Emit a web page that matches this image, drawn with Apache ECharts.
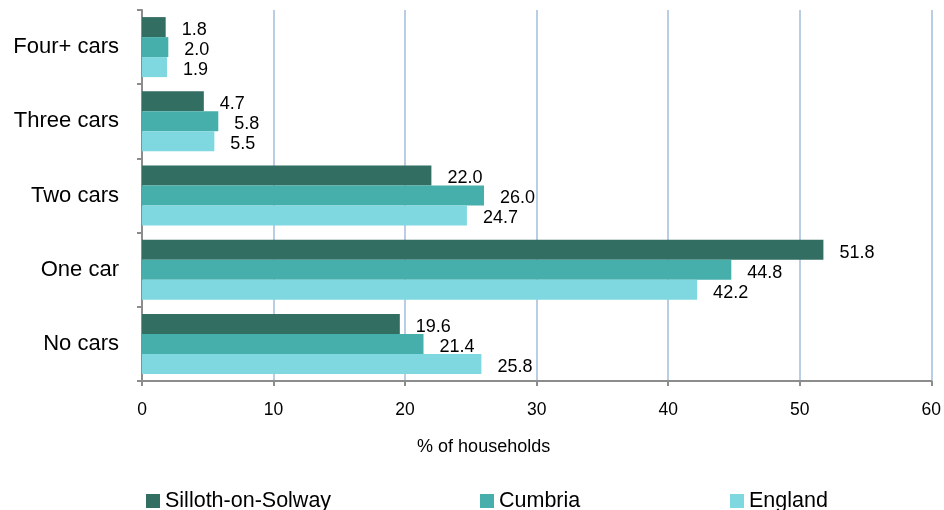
<!DOCTYPE html>
<html><head><meta charset="utf-8">
<script src="https://cdn.jsdelivr.net/npm/echarts@6/dist/echarts.min.js"></script>
<style>html,body{margin:0;padding:0;background:#fff}#c{width:944px;height:510px}</style>
</head><body><div id="c"></div>
<script>
const categories = ['Four+ cars', 'Three cars', 'Two cars', 'One car', 'No cars'];
const seriesNames = ['Silloth-on-Solway', 'Cumbria', 'England'];
const silloth = [1.8, 4.7, 22.0, 51.8, 19.6];
const cumbria = [2.0, 5.8, 26.0, 44.8, 21.4];
const england = [1.9, 5.5, 24.7, 42.2, 25.8];
const xTicks = [0, 10, 20, 30, 40, 50, 60];
const colors = ['#336e62', '#47afab', '#7fd8df'];
const FONT = 'Liberation Sans, Arial, sans-serif';

const chart = echarts.init(document.getElementById('c'), null, {renderer: 'canvas'});
const values = [silloth, cumbria, england];
const legendLefts = [146, 480, 730];
chart.setOption({
  animation: false,
  grid: {left: 142, right: 11, top: 10, bottom: 129, containLabel: false},
  legend: seriesNames.map((n, i) => ({
    data: [n], left: legendLefts[i], top: 490, padding: 0, icon: 'rect', itemWidth: 14, itemHeight: 14,
    itemGap: 0, textStyle: {fontFamily: FONT, fontSize: 21.5, color: '#000'}
  })),
  xAxis: {
    type: 'value', min: xTicks[0], max: xTicks[xTicks.length - 1], interval: 10,
    axisLine: {show: true, lineStyle: {color: '#8c8c8c', width: 2}},
    axisTick: {show: true, length: 5, lineStyle: {color: '#8c8c8c', width: 2}},
    axisLabel: {fontFamily: FONT, fontSize: 17.5, color: '#000', margin: 20},
    splitLine: {show: true, lineStyle: {color: '#b9cde5', width: 2}},
    name: '% of households', nameLocation: 'middle', nameGap: 57,
    nameTextStyle: {fontFamily: FONT, fontSize: 18, color: '#000', padding: [0, 106, 0, 0]}
  },
  yAxis: {
    type: 'category', data: categories, inverse: true,
    axisLine: {show: true, lineStyle: {color: '#8c8c8c', width: 2}},
    axisTick: {show: true, length: 5, lineStyle: {color: '#8c8c8c', width: 2}},
    axisLabel: {fontFamily: FONT, fontSize: 22, color: '#000', margin: 23},
    splitLine: {show: false}
  },
  series: seriesNames.map((n, i) => ({
    name: n, type: 'bar', data: values[i], barWidth: 20, barGap: '0%',
    itemStyle: {color: colors[i]},
    label: {show: true, position: 'right', distance: 16, offset: [0, 3],
      fontFamily: FONT, fontSize: 18, color: '#000',
      formatter: p => p.value.toFixed(1)}
  }))
});
</script></body></html>
